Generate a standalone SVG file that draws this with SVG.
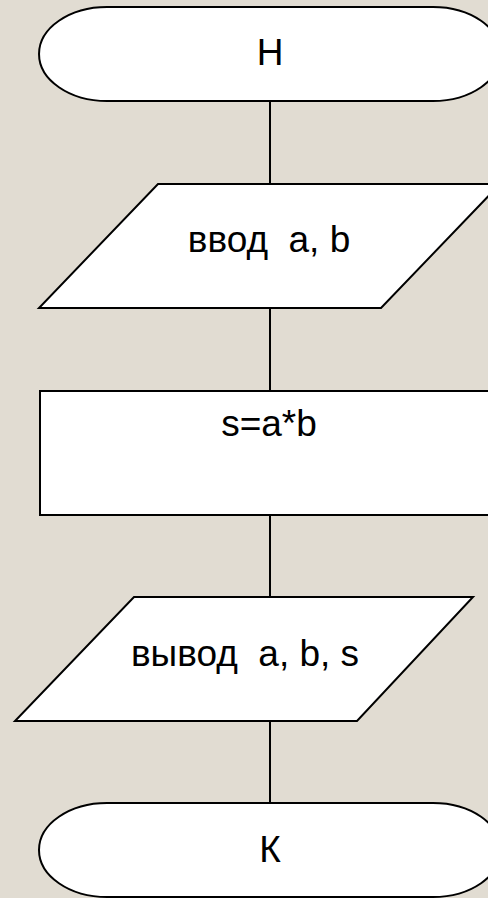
<svg xmlns="http://www.w3.org/2000/svg" width="488" height="898" viewBox="0 0 488 898">
<style>
.shape{fill:#ffffff;stroke:#000000;stroke-width:2}
.conn{stroke:#000000;stroke-width:2;fill:none}
.t{font-family:"Liberation Sans",Arial,sans-serif;font-size:37px;fill:#000000;text-anchor:middle;white-space:pre}
.big{font-size:37px}
</style>
<rect x="0" y="0" width="488" height="898" fill="#E1DCD2"/>
<g id="connectors">
<line class="conn" x1="270" y1="101" x2="270" y2="184"/>
<line class="conn" x1="270" y1="308" x2="270" y2="391"/>
<line class="conn" x1="270" y1="515" x2="270" y2="597"/>
<line class="conn" x1="270" y1="721" x2="270" y2="803"/>
</g>
<g id="start">
<path class="shape" d="M107,7 H433 A68,47 0 0 1 433,101 H107 A68,47 0 0 1 107,7 Z"/>
<text class="t big" x="270" y="65">Н</text>
</g>
<g id="input">
<polygon class="shape" points="158,184 500,184 381,308 39,308"/>
<text class="t" x="269" y="252" xml:space="preserve">ввод  a, b</text>
</g>
<g id="process">
<rect class="shape" x="40" y="391" width="460" height="124"/>
<text class="t" x="269" y="436">s=a*b</text>
</g>
<g id="output">
<polygon class="shape" points="134,597 473,597 357,721 15,721"/>
<text class="t" x="245" y="666" xml:space="preserve">вывод  a, b, s</text>
</g>
<g id="end">
<path class="shape" d="M107,803 H433 A68,47 0 0 1 433,897 H107 A68,47 0 0 1 107,803 Z"/>
<text class="t big" x="270" y="862">К</text>
</g>
</svg>
